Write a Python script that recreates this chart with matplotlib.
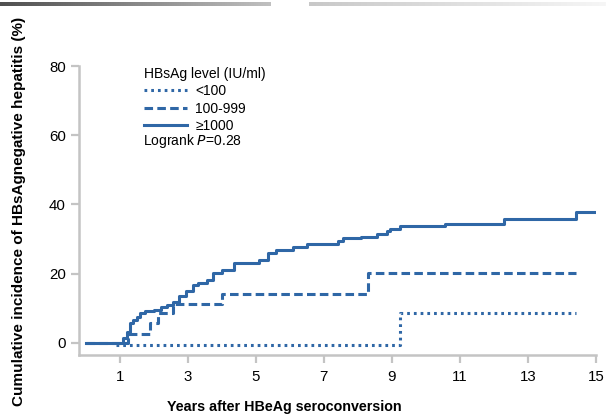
import numpy as np
import matplotlib
matplotlib.use("Agg")
import matplotlib.pyplot as plt
from matplotlib.colors import LinearSegmentedColormap

plt.rcParams['font.family'] = ['Liberation Sans', 'DejaVu Sans']

# ---- data ----
t_high = [0, 1.1, 1.2, 1.3, 1.4, 1.5, 1.6, 1.75, 2.0, 2.2, 2.4, 2.55, 2.75, 2.95, 3.15, 3.3,
          3.55, 3.75, 4.0, 4.35, 5.1, 5.35, 5.6, 6.1, 6.5, 7.4, 7.55, 8.1, 8.55, 8.85, 8.95,
          9.25, 10.55, 12.3, 14.4, 15.0]
v_high = [0, 1.4, 3.0, 5.8, 6.6, 7.5, 8.7, 9.2, 9.5, 10.2, 11.0, 11.8, 13.6, 15.0, 16.8, 17.3,
          18.2, 20.2, 21.1, 23.0, 24.0, 26.0, 26.9, 27.7, 28.6, 29.5, 30.3, 30.7, 31.5, 32.3, 33.0,
          33.8, 34.4, 35.8, 37.9, 37.9]
t_mid = [0, 1.25, 1.88, 2.12, 2.55, 4.0, 8.3, 14.4]
v_mid = [0, 2.6, 5.8, 8.7, 11.3, 14.2, 20.2, 20.2]
t_low = [0.9, 9.25, 14.4]
v_low = [-0.8, 8.7, 8.7]

labels = ["<100", "100-999", "\u22651000"]
legend_title = "HBsAg level (IU/ml)"
x_ticks = [1, 3, 5, 7, 9, 11, 13, 15]
y_ticks = [0, 20, 40, 60, 80]

color = "#2f67a6"
spine_c = "#c4c4c4"

fig = plt.figure(figsize=(6.06, 4.17), dpi=100)
ax = fig.add_axes([79/606, 62/417, (596-79)/606, (355-66)/417])

l1, = ax.plot(t_low, v_low, drawstyle='steps-post', color=color, lw=2.2,
              linestyle=(0, (0.9, 1.3)))
l2, = ax.plot(t_mid, v_mid, drawstyle='steps-post', color=color, lw=2.2,
              linestyle=(0, (2.8, 1.4)))
l3, = ax.plot(t_high, v_high, drawstyle='steps-post', color=color, lw=2.2)

ax.set_xlim(-0.2, 15)
ax.set_ylim(-3.55, 80)
ax.set_xticks(x_ticks)
ax.set_yticks(y_ticks)
for s in ['top', 'right']:
    ax.spines[s].set_visible(False)
for s in ['left', 'bottom']:
    ax.spines[s].set_color(spine_c)
    ax.spines[s].set_linewidth(1.8)
ax.tick_params(axis='both', colors=spine_c, width=1.6, length=6, labelsize=10.8,
               labelcolor='black')
ax.tick_params(axis='x', pad=5)
ax.tick_params(axis='y', pad=3.5)

ax.set_xlabel("Years after HBeAg seroconversion", fontsize=10.3, fontweight='bold')
ax.xaxis.set_label_coords((284-79)/(596-79), -(407-355)/(355-66))
ax.xaxis.label.set_va('center')
ax.set_ylabel("Cumulative incidence of HBsAgnegative hepatitis (%)", fontsize=11,
              fontweight='bold')
ax.yaxis.set_label_coords(-(79-19)/(596-79), (355-211)/(355-66))
ax.yaxis.label.set_va('center')

leg = ax.legend([l1, l2, l3], labels, title=legend_title, frameon=False,
                loc='upper left', bbox_to_anchor=((141-79)/517, (355-64)/289),
                fontsize=10, title_fontsize=10, handlelength=3.1, handletextpad=0.6,
                labelspacing=0.25, alignment='left', borderpad=0.2, borderaxespad=0)
ax.text((143-79)/517, (355-141)/289, "Logrank $\\it{P}$=0.28", transform=ax.transAxes,
        fontsize=10, va='center', ha='left')

# header gradient bars
g = np.linspace(0, 1, 256).reshape(1, -1)
ax1 = fig.add_axes([0, 1-6/417, 271/606, 3.7/417])
ax1.imshow(g, aspect='auto', cmap=LinearSegmentedColormap.from_list('a', ['#505050', '#c0c0c0']))
ax1.axis('off')
ax2 = fig.add_axes([309/606, 1-6/417, 1-309/606, 3.7/417])
ax2.imshow(g, aspect='auto', cmap=LinearSegmentedColormap.from_list('b', ['#c8c8c8', '#f6f6f6']))
ax2.axis('off')

fig.savefig("out.png", dpi=100)
